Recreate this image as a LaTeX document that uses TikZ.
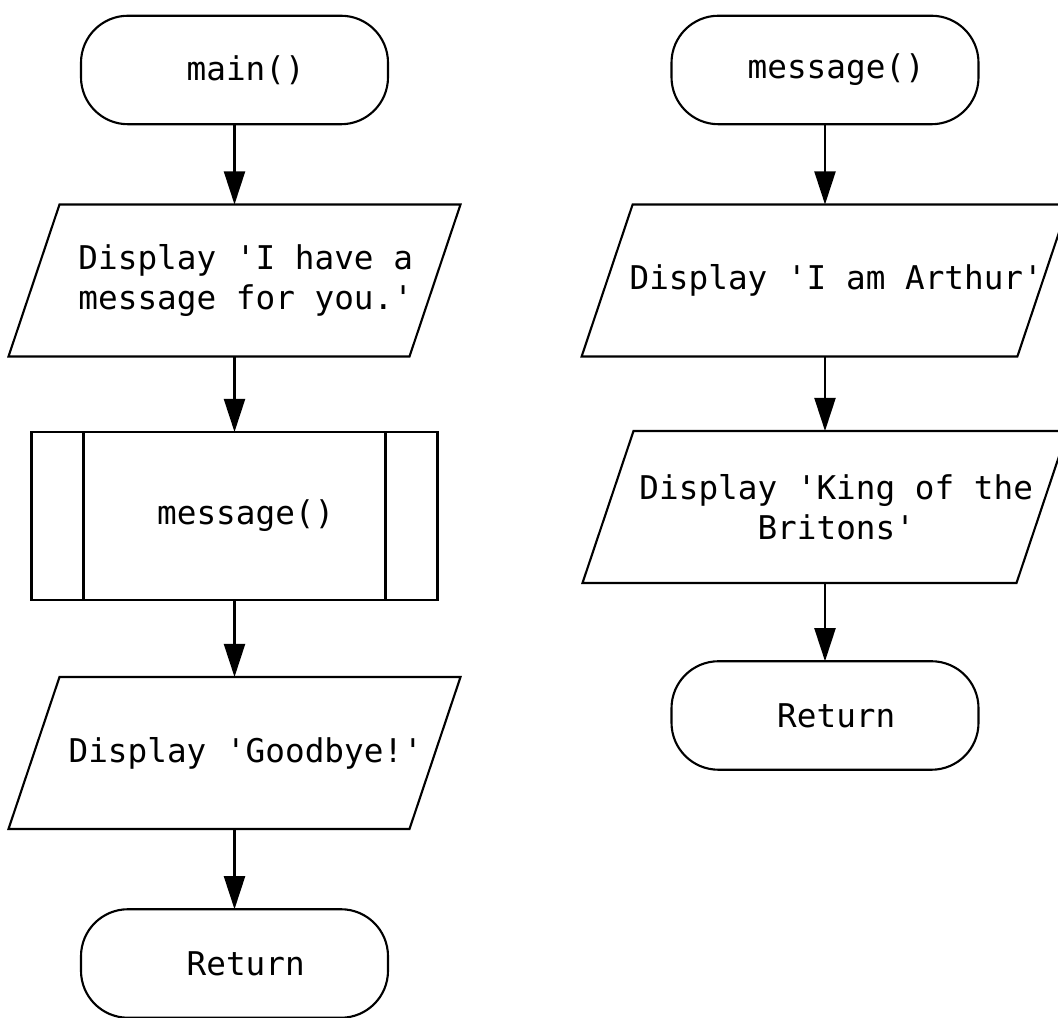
\documentclass[tikz,border=0pt]{standalone}
\usepackage{fontspec}
\setmonofont{DejaVu Sans Mono}
\usetikzlibrary{arrows.meta}

\begin{document}
\begin{tikzpicture}[>={Triangle[length=0.66cm,width=0.42cm]},line width=1.2pt,box/.style={draw,outer sep=0pt,inner sep=2pt,font=\ttfamily\fontsize{18.6}{22.8}\selectfont,align=center,execute at begin node={\hspace*{0.45cm}}},terminal/.style={box,rounded corners=0.94cm,minimum width=6.14cm,minimum height=2.17cm},io/.style={box,draw=none,inner xsep=0pt,minimum height=3.04cm,append after command={\pgfextra{\draw ([xshift=0.51cm]\tikzlastnode.north west)--([xshift=0.51cm]\tikzlastnode.north east)--([xshift=-0.51cm]\tikzlastnode.south east)--([xshift=-0.51cm]\tikzlastnode.south west)--cycle;}}},ionarrow/.style={io,minimum width=8.02cm},iowide/.style={io,minimum width=8.68cm},subproc/.style={box,minimum width=8.12cm,minimum height=3.36cm},arrow/.style={->}]
\useasboundingbox (0,0) rectangle (21.16,20.36);
\node[terminal] (mainstart) at (4.69,18.96) {main()}; \node[ionarrow] (hello) at (4.69,14.75) {Display 'I have a\\message for you.'};
\node[subproc] (call) at (4.69,10.04) {message()}; \node[ionarrow] (bye) at (4.69,5.30) {Display 'Goodbye!'};
\node[terminal] (mainret) at (4.69,1.09) {Return};
\draw ([xshift=1.04cm]call.north west) -- ([xshift=1.04cm]call.south west); \draw ([xshift=-1.04cm]call.north east) -- ([xshift=-1.04cm]call.south east);
\node[terminal] (msgstart) at (16.5,18.96) {message()}; \node[iowide] (arthur) at (16.5,14.75) {Display 'I am Arthur'};
\node[iowide] (king) at (16.5,10.22) {Display 'King of the\\Britons'}; \node[terminal] (msgret) at (16.5,6.05) {Return};
\draw[arrow] (mainstart)--(hello); \draw[arrow] (hello)--(call); \draw[arrow] (call)--(bye); \draw[arrow] (bye)--(mainret);
\draw[arrow] (msgstart)--(arthur); \draw[arrow] (arthur)--(king); \draw[arrow] (king)--(msgret);
\end{tikzpicture}
\end{document}
